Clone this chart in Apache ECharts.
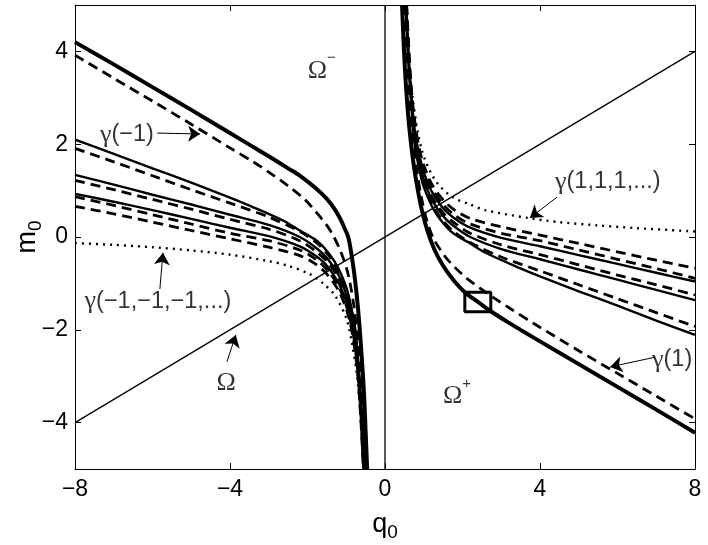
<!DOCTYPE html>
<html><head><meta charset="utf-8">
<script src="https://cdn.jsdelivr.net/npm/echarts@6/dist/echarts.min.js"></script>
<style>html,body{margin:0;padding:0;background:#fff}#c{width:708px;height:545px}</style>
</head><body><div id="c"></div>
<script>
// ---- axes ----
const xTicks = [-8, -4, 0, 4, 8];
const yTicks = [-4, -2, 0, 2, 4];
const xRange = [-8, 8];
const yRange = [-5, 5];

// ---- reference lines ----
const omegaLine = [[-8, -4], [8, 4]];          // Ω : m0 = q0/2
const zeroLine = [[0, -5], [0, 5]];            // q0 = 0

// ---- right branch (q0 > 0) ----
const thickR = [[0.44,5],[0.48,4.2],[0.53,3.4],[0.59,2.7],[0.66,2.1],[0.75,1.5],[0.85,1.0],[0.96,0.55],[1.1,0.12],[1.28,-0.28],[1.5,-0.62],[1.76,-0.92],[2.06,-1.19],[2.4,-1.4],[2.73,-1.6],[3.2,-1.85],[4,-2.25],[5,-2.74],[6,-3.23],[7,-3.72],[8,-4.22]];
const gamma1R = [[0.5,5],[0.54,4.2],[0.59,3.4],[0.65,2.7],[0.72,2.1],[0.82,1.45],[0.94,0.85],[1.08,0.35],[1.25,-0.03],[1.55,-0.42],[1.81,-0.66],[2.11,-0.89],[2.45,-1.1],[2.84,-1.33],[3.23,-1.54],[3.83,-1.86],[5,-2.45],[6,-2.94],[7,-3.43],[8,-3.92]];
const aR = [[0.56,5],[0.62,4],[0.7,3],[0.8,2.3],[0.9,1.85],[1.0,1.55],[1.2,1.15],[1.5,0.8],[1.8,0.58],[2.2,0.4],[3,0.22],[4,0.04],[5,-0.14],[6,-0.32],[7,-0.5],[8,-0.67]];
const bR = [[0.555,5],[0.61,4],[0.69,3],[0.79,2.25],[0.9,1.78],[1.0,1.47],[1.2,1.06],[1.5,0.7],[1.8,0.47],[2.2,0.28],[3,0.08],[4,-0.08],[5,-0.28],[6,-0.48],[7,-0.68],[8,-0.89]];
const cR = [[0.55,5],[0.605,4],[0.685,3],[0.785,2.2],[0.9,1.72],[1.0,1.4],[1.2,0.99],[1.5,0.62],[1.8,0.4],[2.2,0.2],[3,-0.02],[4,-0.2],[5,-0.39],[6,-0.58],[7,-0.77],[8,-0.96]];
const dR = [[0.545,5],[0.6,4],[0.68,3],[0.78,2.15],[0.9,1.62],[1.0,1.3],[1.2,0.88],[1.5,0.52],[1.8,0.3],[2.2,0.08],[3,-0.17],[4,-0.38],[5,-0.6],[6,-0.82],[7,-1.03],[8,-1.25]];
const eR = [[0.54,5],[0.595,4],[0.675,3],[0.775,2.1],[0.9,1.56],[1.0,1.24],[1.2,0.82],[1.5,0.45],[1.8,0.22],[2.2,0.0],[3,-0.26],[4,-0.48],[5,-0.7],[6,-0.92],[7,-1.14],[8,-1.36]];
const fR = [[0.535,5],[0.59,4],[0.67,3],[0.77,2.05],[0.9,1.46],[1.0,1.14],[1.2,0.72],[1.5,0.35],[1.8,0.1],[2.2,-0.12],[3,-0.43],[4,-0.73],[5,-1.03],[6,-1.33],[7,-1.63],[8,-1.93]];
const gR = [[0.53,5],[0.585,4],[0.665,3],[0.765,2.0],[0.9,1.4],[1.0,1.08],[1.25,0.6],[1.5,0.3],[1.76,0.08],[2.2,-0.14],[2.62,-0.35],[3.48,-0.67],[4,-0.85],[5,-1.17],[6,-1.48],[7,-1.8],[8,-2.11]];
const dotR = [[0.56,5],[0.6,4.03],[0.72,2.95],[0.95,1.87],[1.29,1.23],[1.72,0.87],[2.2,0.7],[2.58,0.58],[3.69,0.41],[4.5,0.32],[5.5,0.25],[6.5,0.19],[8,0.12]];

// ---- left branch (q0 < 0) ----
const thickL = [[-8,4.2],[-7,3.72],[-6,3.23],[-5,2.74],[-4,2.24],[-3.48,1.98],[-3,1.74],[-2.5,1.48],[-2.19,1.32],[-1.8,1.06],[-1.5,0.82],[-1.3,0.6],[-1.16,0.4],[-1.05,0.2],[-0.95,0.0],[-0.87,-0.35],[-0.8,-0.75],[-0.73,-1.25],[-0.66,-1.9],[-0.6,-2.6],[-0.54,-3.4],[-0.5,-4.2],[-0.46,-5]];
const gammaM1L = [[-8,3.92],[-7,3.42],[-6,2.93],[-5,2.43],[-4,1.92],[-3.4,1.62],[-3,1.4],[-2.5,1.1],[-2.06,0.8],[-1.76,0.52],[-1.5,0.25],[-1.33,0.02],[-1.15,-0.3],[-1.0,-0.65],[-0.9,-1.0],[-0.8,-1.5],[-0.71,-2.1],[-0.63,-2.8],[-0.57,-3.6],[-0.52,-4.3],[-0.49,-5]];
const aL = [[-8,0.66],[-7,0.5],[-6,0.32],[-5,0.14],[-4,-0.04],[-3,-0.22],[-2.2,-0.4],[-1.8,-0.58],[-1.5,-0.8],[-1.2,-1.15],[-1.0,-1.55],[-0.9,-1.85],[-0.8,-2.3],[-0.7,-3],[-0.62,-4],[-0.56,-5]];
const bL = [[-8,0.87],[-7,0.68],[-6,0.48],[-5,0.28],[-4,0.08],[-3,-0.08],[-2.2,-0.28],[-1.8,-0.47],[-1.5,-0.7],[-1.2,-1.06],[-1.0,-1.47],[-0.9,-1.78],[-0.79,-2.25],[-0.69,-3],[-0.61,-4],[-0.555,-5]];
const cL = [[-8,0.93],[-7,0.76],[-6,0.58],[-5,0.39],[-4,0.2],[-3,0.02],[-2.2,-0.2],[-1.8,-0.4],[-1.5,-0.62],[-1.2,-0.99],[-1.0,-1.4],[-0.9,-1.72],[-0.785,-2.2],[-0.685,-3],[-0.605,-4],[-0.55,-5]];
const dL = [[-8,1.22],[-7,1.02],[-6,0.81],[-5,0.6],[-4,0.38],[-3,0.17],[-2.2,-0.08],[-1.8,-0.3],[-1.5,-0.52],[-1.2,-0.88],[-1.0,-1.3],[-0.9,-1.62],[-0.78,-2.15],[-0.68,-3],[-0.6,-4],[-0.545,-5]];
const eL = [[-8,1.34],[-7,1.13],[-6,0.91],[-5,0.7],[-4,0.48],[-3,0.26],[-2.2,0.0],[-1.8,-0.22],[-1.5,-0.45],[-1.2,-0.82],[-1.0,-1.24],[-0.9,-1.56],[-0.775,-2.1],[-0.675,-3],[-0.595,-4],[-0.54,-5]];
const fL = [[-8,1.91],[-7,1.62],[-6,1.32],[-5,1.02],[-4,0.73],[-3,0.43],[-2.2,0.12],[-1.8,-0.1],[-1.5,-0.35],[-1.2,-0.72],[-1.0,-1.14],[-0.9,-1.46],[-0.77,-2.05],[-0.67,-3],[-0.59,-4],[-0.535,-5]];
const gL = [[-8,2.1],[-7,1.79],[-6,1.48],[-5,1.17],[-4,0.85],[-3.48,0.67],[-2.62,0.35],[-2.2,0.14],[-1.76,-0.08],[-1.5,-0.3],[-1.25,-0.6],[-1.0,-1.08],[-0.9,-1.4],[-0.765,-2.0],[-0.665,-3],[-0.585,-4],[-0.53,-5]];
const dotL = [[-8,-0.13],[-7,-0.17],[-6,-0.22],[-5,-0.29],[-4,-0.38],[-3,-0.52],[-2.5,-0.62],[-1.94,-0.8],[-1.6,-1.0],[-1.3,-1.25],[-1.0,-1.75],[-0.85,-2.3],[-0.72,-3.0],[-0.62,-4.0],[-0.56,-5]];

// ---- annotations (data coordinates) ----
const labelPos = [[-1.63,3.66],[1.86,-3.36],[-4.10,-3.08],[-6.66,2.2],[-5.86,-1.38],[5.75,1.19],[7.41,-2.65]];
const labelText = ['{o|Ω}{sup|−}','{o|Ω}{sup|+}','{o|Ω}','{g|γ}{t|(−1)}','{g|γ}{t|(−1,−1,−1,...)}','{g|γ}{t|(1,1,1,...)}','{g|γ}{t|(1)}'];
const arrows = [
  [[-5.88,2.24],[-4.77,2.22]],
  [[-5.81,-1.12],[-5.73,-0.34]],
  [[-4.08,-2.69],[-3.85,-2.11]],
  [[4.44,0.86],[3.74,0.41]],
  [[6.97,-2.59],[5.81,-2.80]]
];
const boxCorners = [[2.06,-1.19],[2.73,-1.19],[2.73,-1.61],[2.06,-1.61],[2.06,-1.19]];

// ---- styles ----
const K = '#000';
const ST = {
  thick: {color:K, width:4, type:'solid'},
  solid: {color:K, width:2.4, type:'solid'},
  dashed: {color:K, width:2.8, type:[10,6]},
  dotted: {color:K, width:2.4, type:[2,5]},
  thin: {color:K, width:1.3, type:'solid'}
};
function curve(data, style, z) {
  return {type:'line', data:data, symbol:'none', showSymbol:false, smooth:0.3,
    lineStyle:Object.assign({cap:'butt'}, style), silent:true, clip:true, z:z||3, animation:false};
}
const curves = [
  [zeroLine,'thin',2],[omegaLine,'thin',2],
  [dotR,'dotted'],[aR,'dashed'],[bR,'dashed'],[cR,'solid'],[dR,'dashed'],[eR,'solid'],[fR,'dashed'],[gR,'solid'],[gamma1R,'dashed'],[thickR,'thick'],
  [dotL,'dotted'],[aL,'dashed'],[bL,'dashed'],[cL,'solid'],[dL,'dashed'],[eL,'solid'],[fL,'dashed'],[gL,'solid'],[gammaM1L,'dashed'],[thickL,'thick'],
  [boxCorners,'box']
];
const series = curves.map(c => {
  if (c[1] === 'box') return {type:'line', data:c[0], symbol:'none', smooth:false, lineStyle:{color:K,width:3}, silent:true, z:5, animation:false};
  const s = curve(c[0], ST[c[1]], c[2]);
  s.smooth = c[1] === 'thin' ? false : 0.3;
  return s;
});
series.push({
  type:'lines', coordinateSystem:'cartesian2d', silent:true, z:6,
  symbol:['none','arrow'], symbolSize:[0,12],
  lineStyle:{color:K, width:1, opacity:1},
  data: arrows.map(a => ({coords:a}))
});
const fontSans = 'Liberation Sans';
const fontSerif = 'Liberation Serif';
series.push({
  type:'scatter', symbolSize:0, silent:true, z:7,
  data: labelPos.map((p,i) => ({value:p, label:{formatter:labelText[i]}})),
  label:{show:true, position:'inside', color:K,
    rich:{
      o:{fontFamily:fontSerif, fontSize:26, color:K, padding:[7,0,0,0], verticalAlign:'bottom'},
      sup:{fontFamily:fontSans, fontSize:15, color:K, verticalAlign:'top'},
      g:{fontFamily:fontSerif, fontSize:26, color:K},
      t:{fontFamily:fontSans, fontSize:23.5, color:K}
    }}
});

const fmt = v => String(v).replace('-', '\u2212');
const axisLine = {show:true, onZero:false, lineStyle:{color:K, width:1}};
const option = {
  animation:false,
  backgroundColor:'#fff',
  grid:{left:75, right:13, top:5, bottom:76, containLabel:false, outerBoundsMode:'none'},
  xAxis:[
    {type:'value', min:xRange[0], max:xRange[1], position:'bottom', axisLine:axisLine,
     axisTick:{show:true, inside:true, length:6, customValues:xTicks, lineStyle:{color:K}},
     axisLabel:{show:true, customValues:xTicks, formatter:fmt, fontSize:23, fontFamily:fontSans, color:K, margin:9},
     splitLine:{show:false},
     name:'{q|q}{s|0}', nameLocation:'middle', nameGap:42, nameMoveOverlap:false,
     nameTextStyle:{rich:{q:{fontSize:27, fontFamily:fontSans, color:K, verticalAlign:'top'}, s:{fontSize:19, fontFamily:fontSans, color:K, verticalAlign:'bottom', padding:[12,0,0,0]}}}},
    {type:'value', min:xRange[0], max:xRange[1], position:'top', axisLine:axisLine,
     axisTick:{show:true, inside:true, length:6, customValues:xTicks, lineStyle:{color:K}},
     axisLabel:{show:false}, splitLine:{show:false}}
  ],
  yAxis:[
    {type:'value', min:yRange[0], max:yRange[1], position:'left', axisLine:axisLine,
     axisTick:{show:true, inside:true, length:6, customValues:yTicks, lineStyle:{color:K}},
     axisLabel:{show:true, customValues:yTicks, formatter:fmt, fontSize:23, fontFamily:fontSans, color:K, margin:7},
     splitLine:{show:false},
     name:'{q|m}{s|0}', nameLocation:'middle', nameGap:30, nameRotate:90, nameMoveOverlap:false,
     nameTextStyle:{rich:{q:{fontSize:27, fontFamily:fontSans, color:K, verticalAlign:'top'}, s:{fontSize:19, fontFamily:fontSans, color:K, verticalAlign:'bottom', padding:[12,0,0,0]}}}},
    {type:'value', min:yRange[0], max:yRange[1], position:'right', axisLine:axisLine,
     axisTick:{show:true, inside:true, length:6, customValues:yTicks, lineStyle:{color:K}},
     axisLabel:{show:false}, splitLine:{show:false}}
  ],
  series: series
};
const chart = echarts.init(document.getElementById('c'), null, {renderer:'canvas'});
chart.setOption(option);
</script></body></html>
